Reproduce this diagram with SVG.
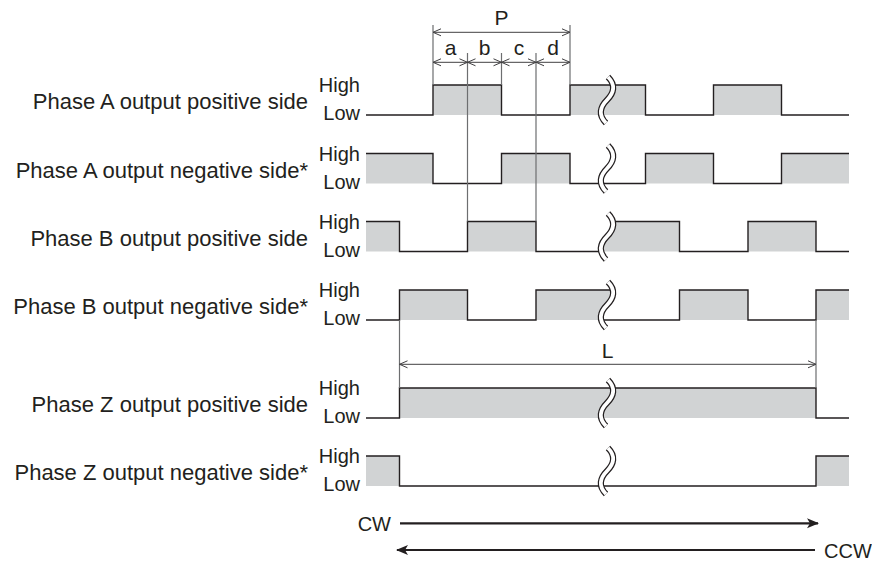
<svg xmlns="http://www.w3.org/2000/svg" xmlns:xlink="http://www.w3.org/1999/xlink" width="872" height="562" viewBox="0 0 872 562">
<style>
text{font-family:"Liberation Sans",Arial,sans-serif;fill:#231f20}
.lbl{font-size:22px;text-anchor:end}
.hl{font-size:20px;text-anchor:end}
.dim{font-size:21px;text-anchor:middle}
.g{fill:#d1d3d4;stroke:none}
.w{fill:none;stroke:#231f20;stroke-width:1.4}
.ext{stroke:#6d6e70;stroke-width:1.2;fill:none}
.dl{stroke:#414042;stroke-width:1;fill:none;marker-start:url(#oa);marker-end:url(#oa)}
.brk-o{fill:none;stroke:#231f20;stroke-width:6.2}
.brk-i{fill:none;stroke:#fff;stroke-width:3.8}
.big{stroke:#231f20;stroke-width:2.2;fill:none;marker-end:url(#fa)}
</style>
<defs>
<marker id="oa" markerUnits="userSpaceOnUse" markerWidth="10" markerHeight="10" refX="8" refY="4" orient="auto-start-reverse" overflow="visible">
<path d="M0,0.5 L8,4 L0,7.5" fill="none" stroke="#414042" stroke-width="1"/>
</marker>
<marker id="fa" markerUnits="userSpaceOnUse" markerWidth="14" markerHeight="12" refX="11" refY="5" orient="auto" overflow="visible">
<path d="M0,0 L12,5 L0,10 L3,5 Z" fill="#231f20"/>
</marker>
<clipPath id="cl" clipPathUnits="userSpaceOnUse"><path d="M300,-20 H608 V-8 C616,0 614,8 607,15 C600,22 598,30 606,38 V50 H300 Z"/></clipPath>
<clipPath id="cr" clipPathUnits="userSpaceOnUse"><path d="M872,-20 H608 V-8 C616,0 614,8 607,15 C600,22 598,30 606,38 V50 H872 Z"/></clipPath>
<path id="brk" d="M608,-8 C616,0 614,8 607,15 C600,22 598,30 606,38"/>
</defs>
<rect width="872" height="562" fill="#fff"/>

<g id="phaseA-pos" transform="translate(0,85)">
<text class="lbl" x="308" y="24">Phase A output positive side</text>
<text class="hl" x="360" y="7">High</text><text class="hl" x="360" y="35">Low</text>
<g clip-path="url(#cl)"><rect class="g" x="433" y="0" width="68.5" height="30"/><rect class="g" x="570" y="0" width="50" height="30"/><path class="w" d="M366,30 H433 V0 H501.5 V30 H570 V0 H620"/></g>
<g clip-path="url(#cr)"><rect class="g" x="595" y="0" width="50.5" height="30"/><rect class="g" x="713.5" y="0" width="68" height="30"/><path class="w" d="M595,0 H645.5 V30 H713.5 V0 H781.5 V30 H849"/></g>
<use href="#brk" class="brk-o"/><use href="#brk" class="brk-i"/>
</g>

<g id="phaseA-neg" transform="translate(0,153.5)">
<text class="lbl" x="308" y="24">Phase A output negative side*</text>
<text class="hl" x="360" y="7">High</text><text class="hl" x="360" y="35">Low</text>
<g clip-path="url(#cl)"><rect class="g" x="366" y="0" width="67" height="30"/><rect class="g" x="501.5" y="0" width="68.5" height="30"/><path class="w" d="M366,0 H433 V30 H501.5 V0 H570 V30 H620"/></g>
<g clip-path="url(#cr)"><rect class="g" x="645.5" y="0" width="68" height="30"/><rect class="g" x="781.5" y="0" width="67.5" height="30"/><path class="w" d="M595,30 H645.5 V0 H713.5 V30 H781.5 V0 H849"/></g>
<use href="#brk" class="brk-o"/><use href="#brk" class="brk-i"/>
</g>

<g id="phaseB-pos" transform="translate(0,221.5)">
<text class="lbl" x="308" y="24">Phase B output positive side</text>
<text class="hl" x="360" y="7">High</text><text class="hl" x="360" y="35">Low</text>
<g clip-path="url(#cl)"><rect class="g" x="366" y="0" width="33.5" height="30"/><rect class="g" x="467.5" y="0" width="68.5" height="30"/><path class="w" d="M366,0 H399.5 V30 H467.5 V0 H536 V30 H620"/></g>
<g clip-path="url(#cr)"><rect class="g" x="595" y="0" width="84.5" height="30"/><rect class="g" x="748" y="0" width="68" height="30"/><path class="w" d="M595,0 H679.5 V30 H748 V0 H816 V30 H849"/></g>
<use href="#brk" class="brk-o"/><use href="#brk" class="brk-i"/>
</g>

<g id="phaseB-neg" transform="translate(0,290)">
<text class="lbl" x="308" y="24">Phase B output negative side*</text>
<text class="hl" x="360" y="7">High</text><text class="hl" x="360" y="35">Low</text>
<g clip-path="url(#cl)"><rect class="g" x="399.5" y="0" width="68" height="30"/><rect class="g" x="536" y="0" width="84" height="30"/><path class="w" d="M366,30 H399.5 V0 H467.5 V30 H536 V0 H620"/></g>
<g clip-path="url(#cr)"><rect class="g" x="679.5" y="0" width="68.5" height="30"/><rect class="g" x="816" y="0" width="33" height="30"/><path class="w" d="M595,30 H679.5 V0 H748 V30 H816 V0 H849"/></g>
<use href="#brk" class="brk-o"/><use href="#brk" class="brk-i"/>
</g>

<g id="phaseZ-pos" transform="translate(0,388)">
<text class="lbl" x="308" y="24">Phase Z output positive side</text>
<text class="hl" x="360" y="7">High</text><text class="hl" x="360" y="35">Low</text>
<rect class="g" x="399.5" y="0" width="416.5" height="30"/>
<path class="w" d="M366,30 H399.5 V0 H816 V30 H849"/>
<use href="#brk" class="brk-o"/><use href="#brk" class="brk-i"/>
</g>

<g id="phaseZ-neg" transform="translate(0,456)">
<text class="lbl" x="308" y="24">Phase Z output negative side*</text>
<text class="hl" x="360" y="7">High</text><text class="hl" x="360" y="35">Low</text>
<rect class="g" x="366" y="0" width="33.5" height="30"/><rect class="g" x="816" y="0" width="33" height="30"/>
<path class="w" d="M366,0 H399.5 V30 H816 V0 H849"/>
<use href="#brk" class="brk-o"/><use href="#brk" class="brk-i"/>
</g>

<g id="connectors">
<path class="ext" d="M433,25 V85 M570,25 V85 M501.5,53 V85 M467.5,53 V221.5 M536,53 V221.5 M399.5,320 V388 M816,320 V388"/>
<path class="dl" d="M433,32.3 H570"/>
<path class="dl" d="M433,62.3 H467.5"/>
<path class="dl" d="M467.5,62.3 H501.5"/>
<path class="dl" d="M501.5,62.3 H536"/>
<path class="dl" d="M536,62.3 H570"/>
<path class="dl" d="M399.5,364.3 H816"/>
<path class="big" d="M400,523.3 H818"/>
<path class="big" d="M815,550 H397"/>
</g>

<g id="dimension-labels">
<text class="dim" x="501.5" y="25">P</text>
<text class="dim" x="450.5" y="55">a</text>
<text class="dim" x="484.5" y="55">b</text>
<text class="dim" x="519" y="55">c</text>
<text class="dim" x="553" y="55">d</text>
<text class="dim" x="607.5" y="358">L</text>
</g>

<g id="direction">
<text x="391" y="531" style="font-size:20px;text-anchor:end">CW</text>
<text x="824" y="558" style="font-size:20px">CCW</text>
</g>
</svg>
